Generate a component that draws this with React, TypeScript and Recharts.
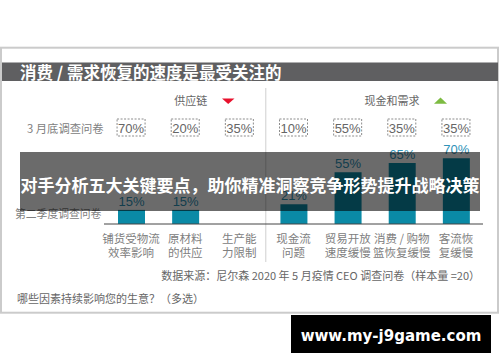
import { BarChart, Bar, XAxis, YAxis, LabelList } from 'recharts';

// 第二季度调查问卷 (bars) and 3 月底调查问卷 (dashed boxes)
const CATEGORY_LINES = [
  ['铺货受物流', '效率影响'],
  ['原材料', '的供应'],
  ['生产能', '力限制'],
  ['现金流', '问题'],
  ['贸易开放', '速度缓慢'],
  ['消费 / 购物', '篮恢复缓慢'],
  ['客流恢', '复缓慢'],
];
const Q2_VALUES = [15, 15, 0, 21, 55, 65, 70];
const MARCH_VALUES = [70, 20, 35, 10, 55, 35, 35];

const data = CATEGORY_LINES.map((lines, i) => ({
  name: lines.join(''),
  q2: Q2_VALUES[i],
  march: MARCH_VALUES[i],
}));

const FONT = "'Liberation Sans', 'Noto Sans CJK SC', sans-serif";
const CJK = "'Noto Sans CJK SC', 'Liberation Sans', sans-serif";
const GRAY = '#808080';
const TEAL = '#0a8aa6';

const CategoryTick = (props: any) => {
  const { x, y, payload } = props;
  const lines = CATEGORY_LINES[payload.index] || [];
  return (
    <text x={x} y={y} textAnchor="middle" fontSize={11.5} fill={GRAY} fontFamily={CJK}>
      <tspan x={x} y={y + 19}>{lines[0]}</tspan>
      <tspan x={x} y={y + 33}>{lines[1]}</tspan>
    </text>
  );
};

const MarchTick = (props: any) => {
  const { x, y, payload } = props;
  const v = MARCH_VALUES[payload.index];
  return (
    <g>
      <rect x={x - 14} y={y - 11} width={28} height={17} fill="none" stroke="#8c8c8c" strokeDasharray="2 1.5" />
      <text x={x} y={y + 2.5} textAnchor="middle" fontSize={13} fill="#666" fontFamily={FONT}>{v}%</text>
    </g>
  );
};

const abs = { position: 'absolute' as const, left: 0, top: 0 };

export default function App() {
  return (
    <div style={{ ...abs, width: 500, height: 362, background: '#fff', overflow: 'hidden' }}>
      {/* frame, header, side texts */}
      <svg width={500} height={362} style={abs}>
        <rect x={1} y={47.7} width={497} height={265} fill="none" stroke="#cbcbcb" strokeWidth={2} />
        <rect x={2} y={62.5} width={496} height={18.5} fill="#5f5f61" />
        <text x={20} y={78.8} fontSize={16.5} fontWeight={700} fill="#fff" fontFamily={CJK}>消费 / 需求恢复的速度是最受关注的</text>

        <text x={190.8} y={105} textAnchor="middle" fontSize={11} fill="#666" fontFamily={CJK}>供应链</text>
        <polygon points="222,98.5 234.5,98.5 228.2,104" fill="#e8112d" />
        <text x={392} y={105} textAnchor="middle" fontSize={11} fill="#666" fontFamily={CJK}>现金和需求</text>
        <polygon points="434,103.7 447,103.7 440.5,97.5" fill="#7dbb42" />

        <line x1={265.8} y1={88} x2={265.8} y2={262} stroke="#cfcfcf" strokeWidth={1} />

        <text x={27} y={133.3} fontSize={11.3} fill={GRAY} fontFamily={CJK}>3 月底调查问卷</text>
        <text x={15} y={217.5} fontSize={10.8} fill={GRAY} fontFamily={CJK}>第二季度调查问卷</text>

        <text x={480} y={279.5} textAnchor="end" fontSize={11} fill="#666" fontFamily={CJK}>数据来源：尼尔森 2020 年 5 月疫情 CEO 调查问卷（样本量 =20）</text>
        <text x={17} y={303} fontSize={11} fill="#666" fontFamily={CJK}>哪些因素持续影响您的生意？（多选）</text>
      </svg>

      <div style={abs}>
        <BarChart width={500} height={362} data={data} margin={{ top: 110, right: 17, bottom: 98, left: 104 }} barCategoryGap="25%">
          <YAxis hide domain={[0, 100]} />
          <XAxis
            dataKey="name"
            height={40}
            interval={0}
            tickSize={0}
            tickMargin={0}
            tickLine={false}
            axisLine={{ stroke: '#444', strokeWidth: 1 }}
            tick={<CategoryTick />}
          />
          <XAxis
            xAxisId="top"
            orientation="top"
            dataKey="name"
            height={20}
            interval={0}
            tickSize={0}
            tickMargin={0}
            tickLine={false}
            axisLine={false}
            tick={<MarchTick />}
          />
          <Bar dataKey="q2" fill={TEAL} barSize={27} isAnimationActive={false}>
            <LabelList
              dataKey="q2"
              position="top"
              offset={4}
              fontSize={13}
              fill="#2f93b8"
              fontFamily={FONT}
              formatter={(v: any) => (v ? `${v}%` : '')}
            />
          </Bar>
        </BarChart>
      </div>

      {/* overlays on top of the picture */}
      <svg width={500} height={362} style={abs}>
        <rect x={20} y={152} width={460} height={59} fill="rgba(0,0,0,0.58)" />
        <text x={250} y={191.5} textAnchor="middle" fontSize={17} fontWeight={700} fill="#fff" fontFamily={CJK}>对手分析五大关键要点，助你精准洞察竞争形势提升战略决策</text>
        <rect x={291} y={315} width={200} height={38} fill="#000" />
        <text x={391} y={341} textAnchor="middle" fontSize={15} fontWeight={700} fill="#fff" fontFamily="'DejaVu Sans', sans-serif">www.my-j9game.com</text>
      </svg>
    </div>
  );
}
